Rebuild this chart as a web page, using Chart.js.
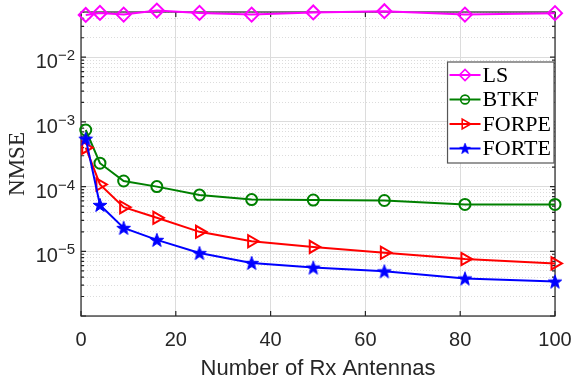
<!DOCTYPE html>
<html>
<head>
<meta charset="utf-8">
<script src="https://cdn.jsdelivr.net/npm/chart.js@4.4.1/dist/chart.umd.min.js"></script>
<style>
  html, body { margin: 0; padding: 0; background: #fff; }
</style>
</head>
<body>
<canvas id="chart" width="571" height="382"></canvas>
<script>
// NMSE vs number of receive antennas
const antennas = [1, 4, 9, 16, 25, 36, 49, 64, 81, 100];
const nmseLS    = [0.045, 0.0484, 0.0456, 0.0526, 0.0484, 0.0456, 0.0492, 0.0515, 0.0456, 0.048];
const nmseBTKF  = [7.5e-4, 2.3e-4, 1.22e-4, 1.0e-4, 7.4e-5, 6.3e-5, 6.2e-5, 6.1e-5, 5.3e-5, 5.3e-5];
const nmseFORPE = [4.0e-4, 1.08e-4, 4.8e-5, 3.3e-5, 2.0e-5, 1.43e-5, 1.17e-5, 9.5e-6, 7.6e-6, 6.5e-6];
const nmseFORTE = [5.5e-4, 5.2e-5, 2.3e-5, 1.5e-5, 9.4e-6, 6.6e-6, 5.6e-6, 4.9e-6, 3.8e-6, 3.4e-6];

const xTicks = [0, 20, 40, 60, 80, 100];
const yLabelExps = [-5, -4, -3, -2];
const yMin = 1e-6, yMax = 5e-2;

const AXIS = '#262626';
const GRID = '#dcdcdc';

// 1..9 x 10^n between the limits
const yTickValues = [];
for (let e = -6; e <= -2; e++) {
    for (let m = 1; m <= 9; m++) {
        const v = Number((m * Math.pow(10, e)).toPrecision(3));
        if (v <= yMax * 1.0001) yTickValues.push(v);
    }
}
const isDecade = v => Math.abs(Math.log10(v) - Math.round(Math.log10(v))) < 1e-9;

// filled pentagram marker
const star = document.createElement('canvas');
star.width = 18; star.height = 18;
(() => {
    const c = star.getContext('2d');
    c.beginPath();
    for (let i = 0; i < 10; i++) {
        const r = i % 2 === 0 ? 7.2 : 2.9;
        const a = -Math.PI / 2 + i * Math.PI / 5;
        const px = 9 + r * Math.cos(a), py = 9.6 + r * Math.sin(a);
        i === 0 ? c.moveTo(px, py) : c.lineTo(px, py);
    }
    c.closePath();
    c.fillStyle = '#0000ff';
    c.strokeStyle = '#0000ff';
    c.lineWidth = 1;
    c.fill();
    c.stroke();
})();

const toPoints = vals => antennas.map((x, i) => ({x: x, y: vals[i]}));

const datasets = [
    {label: 'LS', data: toPoints(nmseLS), borderColor: '#ff00ff', pointStyle: 'rectRot', pointRadius: 7, order: 4},
    {label: 'BTKF', data: toPoints(nmseBTKF), borderColor: '#008000', pointStyle: 'circle', pointRadius: 5.5, order: 3},
    {label: 'FORPE', data: toPoints(nmseFORPE), borderColor: '#ff0000', pointStyle: 'triangle', pointRotation: 90, pointRadius: 7, order: 2},
    {label: 'FORTE', data: toPoints(nmseFORTE), borderColor: '#0000ff', pointStyle: star, pointRadius: 7, order: 1}
].map(d => Object.assign({
    borderWidth: 2,
    pointBorderWidth: 2,
    pointBorderColor: d.borderColor,
    pointBackgroundColor: 'rgba(0,0,0,0)',
    tension: 0,
    clip: false
}, d));

// box + inward ticks, under the data
const framePlugin = {
    id: 'frame',
    beforeDatasetsDraw(chart) {
        const {ctx, chartArea: a, scales} = chart;
        ctx.save();
        ctx.strokeStyle = AXIS;
        ctx.lineWidth = 1.2;
        ctx.strokeRect(a.left, a.top, a.right - a.left, a.bottom - a.top);
        ctx.beginPath();
        scales.x.ticks.forEach(t => {
            const x = scales.x.getPixelForValue(t.value);
            ctx.moveTo(x, a.bottom); ctx.lineTo(x, a.bottom - 5);
            ctx.moveTo(x, a.top); ctx.lineTo(x, a.top + 5);
        });
        scales.y.ticks.forEach(t => {
            const y = scales.y.getPixelForValue(t.value);
            const len = isDecade(t.value) ? 5 : 3;
            ctx.moveTo(a.left, y); ctx.lineTo(a.left + len, y);
            ctx.moveTo(a.right, y); ctx.lineTo(a.right - len, y);
        });
        ctx.stroke();
        ctx.restore();
    }
};

// 10^n labels with raised exponent
const expLabelPlugin = {
    id: 'expLabels',
    afterDraw(chart) {
        const ctx = chart.ctx, s = chart.scales.y;
        const xr = chart.chartArea.left - 6;
        ctx.save();
        ctx.fillStyle = AXIS;
        ctx.textAlign = 'right';
        ctx.textBaseline = 'alphabetic';
        yLabelExps.forEach(e => {
            const y = s.getPixelForValue(Math.pow(10, e));
            const sup = '\u2212' + Math.abs(e);
            ctx.font = '15px "Liberation Sans"';
            const w = ctx.measureText(sup).width;
            ctx.fillText(sup, xr, y + 3);
            ctx.font = '20px "Liberation Sans"';
            ctx.fillText('10', xr - w, y + 11);
        });
        ctx.restore();
    }
};

// boxed legend in the upper right of the plot
const boxLegendPlugin = {
    id: 'boxLegend',
    afterDraw(chart) {
        const ctx = chart.ctx, a = chart.chartArea;
        const sets = chart.data.datasets;
        ctx.save();
        ctx.font = '22px "Liberation Serif"';
        const textW = Math.max(...sets.map(d => ctx.measureText(d.label).width));
        const rowH = 24.5, lineLen = 31;
        const w = 2 + lineLen + 2 + textW + 3;
        const h = rowH * sets.length + 3;
        const right = a.right - 1, top = a.top + 50;
        const left = right - w;
        ctx.fillStyle = '#fff';
        ctx.fillRect(left, top, w, h);
        ctx.strokeStyle = '#555';
        ctx.lineWidth = 1.2;
        ctx.strokeRect(left, top, w, h);
        sets.forEach((d, i) => {
            const cy = top + 13 + i * rowH;
            const x0 = left + 2;
            ctx.strokeStyle = d.borderColor;
            ctx.lineWidth = d.borderWidth;
            ctx.beginPath();
            ctx.moveTo(x0, cy);
            ctx.lineTo(x0 + lineLen, cy);
            ctx.stroke();
            // legend markers are a bit smaller than the plotted ones
            ctx.save();
            ctx.translate(x0 + lineLen / 2, cy);
            ctx.scale(0.8, 0.8);
            ctx.fillStyle = d.pointBackgroundColor;
            ctx.lineWidth = d.pointBorderWidth;
            Chart.helpers.drawPoint(ctx, {
                pointStyle: d.pointStyle,
                radius: d.pointRadius,
                rotation: d.pointRotation || 0,
                borderWidth: d.pointBorderWidth
            }, 0, 0);
            ctx.restore();
            ctx.fillStyle = '#000';
            ctx.textAlign = 'left';
            ctx.textBaseline = 'middle';
            ctx.fillText(d.label, x0 + lineLen + 2, cy + 1);
        });
        ctx.restore();
    }
};

Chart.defaults.font.family = '"Liberation Sans", Arial, sans-serif';

new Chart(document.getElementById('chart'), {
    type: 'line',
    data: {datasets: datasets},
    options: {
        responsive: false,
        animation: false,
        devicePixelRatio: 1,
        layout: {padding: {top: 12, right: 16, left: 0, bottom: 0}},
        plugins: {legend: {display: false}, tooltip: {enabled: false}},
        scales: {
            x: {
                type: 'linear',
                min: 0,
                max: 100,
                afterBuildTicks: s => { s.ticks = xTicks.map(v => ({value: v})); },
                ticks: {font: {size: 20}, color: AXIS, padding: 12, maxRotation: 0, autoSkip: false},
                grid: {color: GRID, drawTicks: false},
                border: {display: false},
                title: {display: true, text: 'Number of Rx Antennas', font: {size: 22}, color: AXIS, padding: 0},
                // end labels may overhang the plot edges
                afterFit: s => { s.height = 66; s.paddingLeft = 0; s.paddingRight = 0; }
            },
            y: {
                type: 'logarithmic',
                position: 'left',
                min: yMin,
                max: yMax,
                afterBuildTicks: s => { s.ticks = yTickValues.map(v => ({value: v})); },
                ticks: {display: false},
                grid: {color: c => isDecade(c.tick.value) ? GRID : 'rgba(0,0,0,0)', drawTicks: false},
                border: {display: false},
                title: {display: true, text: 'NMSE', font: {family: '"Liberation Serif", serif', size: 23}, color: AXIS, padding: {top: 4, bottom: 0}},
                afterFit: s => { s.width = 81; }
            },
            yMinor: {
                type: 'logarithmic',
                position: 'left',
                min: yMin,
                max: yMax,
                afterBuildTicks: s => { s.ticks = yTickValues.map(v => ({value: v})); },
                ticks: {display: false},
                grid: {color: c => isDecade(c.tick.value) ? 'rgba(0,0,0,0)' : GRID, drawTicks: false},
                border: {display: false, dash: [1, 2]},
                afterFit: s => { s.width = 0; }
            }
        }
    },
    plugins: [framePlugin, expLabelPlugin, boxLegendPlugin]
});
</script>
</body>
</html>
